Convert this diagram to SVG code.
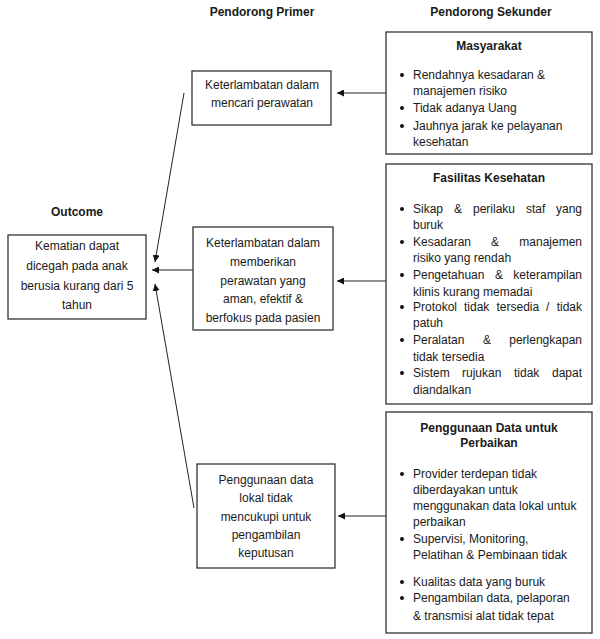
<svg xmlns="http://www.w3.org/2000/svg" width="600" height="639" viewBox="0 0 600 639">
<defs>
<style>
text{font-family:"Liberation Sans",Arial,sans-serif;font-size:12px;fill:#1a1a1a}
.b{font-weight:bold}
.c{text-anchor:middle}
.e{text-anchor:end}
.box{fill:#fff;stroke:#333;stroke-width:1.3}
.ln{stroke:#222;stroke-width:1;fill:none}
.dot{fill:#111}
</style>
<marker id="ah" viewBox="0 0 10 10" refX="10" refY="5" markerWidth="7" markerHeight="7" markerUnits="userSpaceOnUse" orient="auto">
<path d="M0,0 L10,5 L0,10 z" fill="#111"/>
</marker>
</defs>
<rect width="600" height="639" fill="#fff"/>

<g id="headers">
<text class="b c" x="262" y="16">Pendorong Primer</text>
<text class="b c" x="491" y="16">Pendorong Sekunder</text>
<text class="b c" x="77" y="216">Outcome</text>
</g>

<g id="connectors">
<line class="ln" x1="386" y1="93" x2="337" y2="93" marker-end="url(#ah)"/>
<line class="ln" x1="386" y1="281" x2="337" y2="281" marker-end="url(#ah)"/>
<line class="ln" x1="386" y1="516" x2="338" y2="516" marker-end="url(#ah)"/>
<line class="ln" x1="184" y1="93" x2="155" y2="262" marker-end="url(#ah)"/>
<line class="ln" x1="193" y1="270" x2="152" y2="270" marker-end="url(#ah)"/>
<line class="ln" x1="194" y1="508" x2="155" y2="284" marker-end="url(#ah)"/>
</g>

<g id="outcome">
<rect class="box" x="8" y="235" width="138" height="84"/>
<text class="c" x="77" y="250">Kematian dapat</text>
<text class="c" x="77" y="270">dicegah pada anak</text>
<text class="c" x="77" y="290">berusia kurang dari 5</text>
<text class="c" x="77" y="309">tahun</text>
</g>

<g id="primer1">
<rect class="box" x="192" y="71" width="139" height="54"/>
<text class="c" x="262" y="89">Keterlambatan dalam</text>
<text class="c" x="262" y="107">mencari perawatan</text>
</g>

<g id="primer2">
<rect class="box" x="193" y="227" width="140" height="103"/>
<text class="c" x="263" y="247">Keterlambatan dalam</text>
<text class="c" x="263" y="266">memberikan</text>
<text class="c" x="263" y="285">perawatan yang</text>
<text class="c" x="263" y="303">aman, efektif &amp;</text>
<text class="c" x="263" y="322">berfokus pada pasien</text>
</g>

<g id="primer3">
<rect class="box" x="197" y="464" width="138" height="104"/>
<text class="c" x="266" y="484">Penggunaan data</text>
<text class="c" x="266" y="502">lokal tidak</text>
<text class="c" x="266" y="521">mencukupi untuk</text>
<text class="c" x="266" y="539">pengambilan</text>
<text class="c" x="266" y="557">keputusan</text>
</g>

<g id="masyarakat">
<rect class="box" x="386" y="32" width="206" height="122"/>
<text class="b c" x="489" y="50">Masyarakat</text>
<circle class="dot" cx="402" cy="75" r="2"/>
<circle class="dot" cx="402" cy="108" r="2"/>
<circle class="dot" cx="402" cy="126" r="2"/>
<text x="413" y="79">Rendahnya kesadaran &amp;</text>
<text x="413" y="95">manajemen risiko</text>
<text x="413" y="112">Tidak adanya Uang</text>
<text x="413" y="130">Jauhnya jarak ke pelayanan</text>
<text x="413" y="146">kesehatan</text>
</g>

<g id="fasilitas">
<rect class="box" x="386" y="164" width="206" height="240"/>
<text class="b c" x="489" y="182">Fasilitas Kesehatan</text>
<circle class="dot" cx="402" cy="209" r="2"/>
<circle class="dot" cx="402" cy="242" r="2"/>
<circle class="dot" cx="402" cy="275" r="2"/>
<circle class="dot" cx="402" cy="307" r="2"/>
<circle class="dot" cx="402" cy="340" r="2"/>
<circle class="dot" cx="402" cy="373" r="2"/>
<text y="213"><tspan x="413">Sikap</tspan> <tspan x="454">&amp;</tspan> <tspan x="473">perilaku</tspan> <tspan x="526">staf</tspan> <tspan x="582" text-anchor="end">yang</tspan></text>
<text x="413" y="229">buruk</text>
<text y="246"><tspan x="413">Kesadaran</tspan> <tspan x="491">&amp;</tspan> <tspan x="582" text-anchor="end">manajemen</tspan></text>
<text x="413" y="262">risiko yang rendah</text>
<text y="279"><tspan x="413">Pengetahuan</tspan> <tspan x="495">&amp;</tspan> <tspan x="582" text-anchor="end">keterampilan</tspan></text>
<text x="413" y="296">klinis kurang memadai</text>
<text y="311"><tspan x="413">Protokol</tspan> <tspan x="464">tidak</tspan> <tspan x="496.5">tersedia</tspan> <tspan x="546">/</tspan> <tspan x="582" text-anchor="end">tidak</tspan></text>
<text x="413" y="327">patuh</text>
<text y="344"><tspan x="413">Peralatan</tspan> <tspan x="483">&amp;</tspan> <tspan x="582" text-anchor="end">perlengkapan</tspan></text>
<text x="413" y="361">tidak tersedia</text>
<text y="377"><tspan x="413">Sistem</tspan> <tspan x="462">rujukan</tspan> <tspan x="514">tidak</tspan> <tspan x="582" text-anchor="end">dapat</tspan></text>
<text x="413" y="394">diandalkan</text>
</g>

<g id="penggunaan">
<rect class="box" x="386" y="412" width="206" height="221"/>
<text class="b c" x="489" y="432">Penggunaan Data untuk</text>
<text class="b c" x="489" y="447">Perbaikan</text>
<circle class="dot" cx="402" cy="474" r="2"/>
<circle class="dot" cx="402" cy="539" r="2"/>
<circle class="dot" cx="402" cy="582" r="2"/>
<circle class="dot" cx="402" cy="598" r="2"/>
<text x="413" y="478">Provider terdepan tidak</text>
<text x="413" y="494">diberdayakan untuk</text>
<text x="413" y="510">menggunakan data lokal untuk</text>
<text x="413" y="526">perbaikan</text>
<text x="413" y="543">Supervisi, Monitoring,</text>
<text x="413" y="559">Pelatihan &amp; Pembinaan tidak</text>
<text x="413" y="586">Kualitas data yang buruk</text>
<text x="413" y="602">Pengambilan data, pelaporan</text>
<text x="413" y="620">&amp; transmisi alat tidak tepat</text>
</g>
</svg>
